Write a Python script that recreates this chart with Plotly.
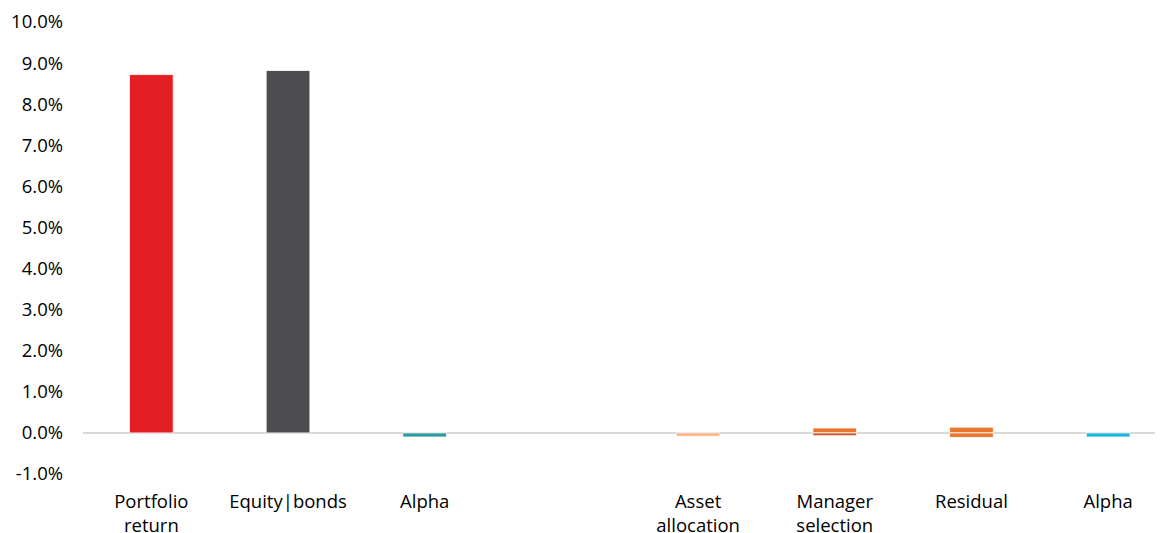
import plotly.graph_objects as go

categories = ["Portfolio<br>return", "Equity|bonds", "Alpha", "", "Asset<br>allocation",
              "Manager<br>selection", "Residual", "Alpha"]
positions = list(range(len(categories)))

y_ticks = [-1, 0, 1, 2, 3, 4, 5, 6, 7, 8, 9, 10]
y_tick_text = [f"{v:.1f}%" for v in y_ticks]

portfolio_return = [8.72, None, None, None, None, None, None, None]
equity_bonds = [None, 8.82, None, None, None, None, None, None]
alpha_left = [None, None, -0.10, None, None, None, None, None]
asset_allocation = [None, None, None, None, -0.08, None, None, None]
manager_pos = [None, None, None, None, None, 0.12, None, None]
manager_neg = [None, None, None, None, None, -0.07, None, None]
residual_pos = [None, None, None, None, None, None, 0.14, None]
residual_neg = [None, None, None, None, None, None, -0.11, None]
alpha_right = [None, None, None, None, None, None, None, -0.10]

series = [
    ("Portfolio return", portfolio_return, "#E31E24"),
    ("Equity|bonds", equity_bonds, "#4D4D4F"),
    ("Alpha", alpha_left, "#2A9A9A"),
    ("Asset allocation", asset_allocation, "#FBAF7C"),
    ("Manager selection +", manager_pos, "#E8762F"),
    ("Manager selection -", manager_neg, "#D2542B"),
    ("Residual +", residual_pos, "#E8762F"),
    ("Residual -", residual_neg, "#E8762F"),
    ("Alpha (2)", alpha_right, "#1BB4DE"),
]

fig = go.Figure()
for name, vals, color in series:
    fig.add_trace(go.Bar(
        x=positions, y=vals, name=name,
        marker=dict(color=color, line=dict(color="white", width=0.8)),
        showlegend=False,
    ))

fig.update_layout(
    barmode="relative",
    bargap=0.68,
    width=1163, height=533,
    margin=dict(l=75, r=0, t=14, b=67),
    paper_bgcolor="white", plot_bgcolor="white",
    font=dict(family="Open Sans, Liberation Sans, sans-serif", size=18.5, color="#000000"),
    xaxis=dict(
        tickmode="array", tickvals=positions, ticktext=categories,
        range=[-0.5, 7.46],
        showgrid=False, showline=False, ticks="", zeroline=False,
        ticklabelstandoff=14,
        automargin=False,
    ),
    yaxis=dict(
        range=[-1, 10],
        tickmode="array", tickvals=y_ticks, ticktext=y_tick_text,
        showgrid=False, showline=False, ticks="",
        zeroline=True, zerolinecolor="#D9D9D9", zerolinewidth=2,
        ticklabelstandoff=19,
        automargin=False,
    ),
)

fig.write_html("out.html")
